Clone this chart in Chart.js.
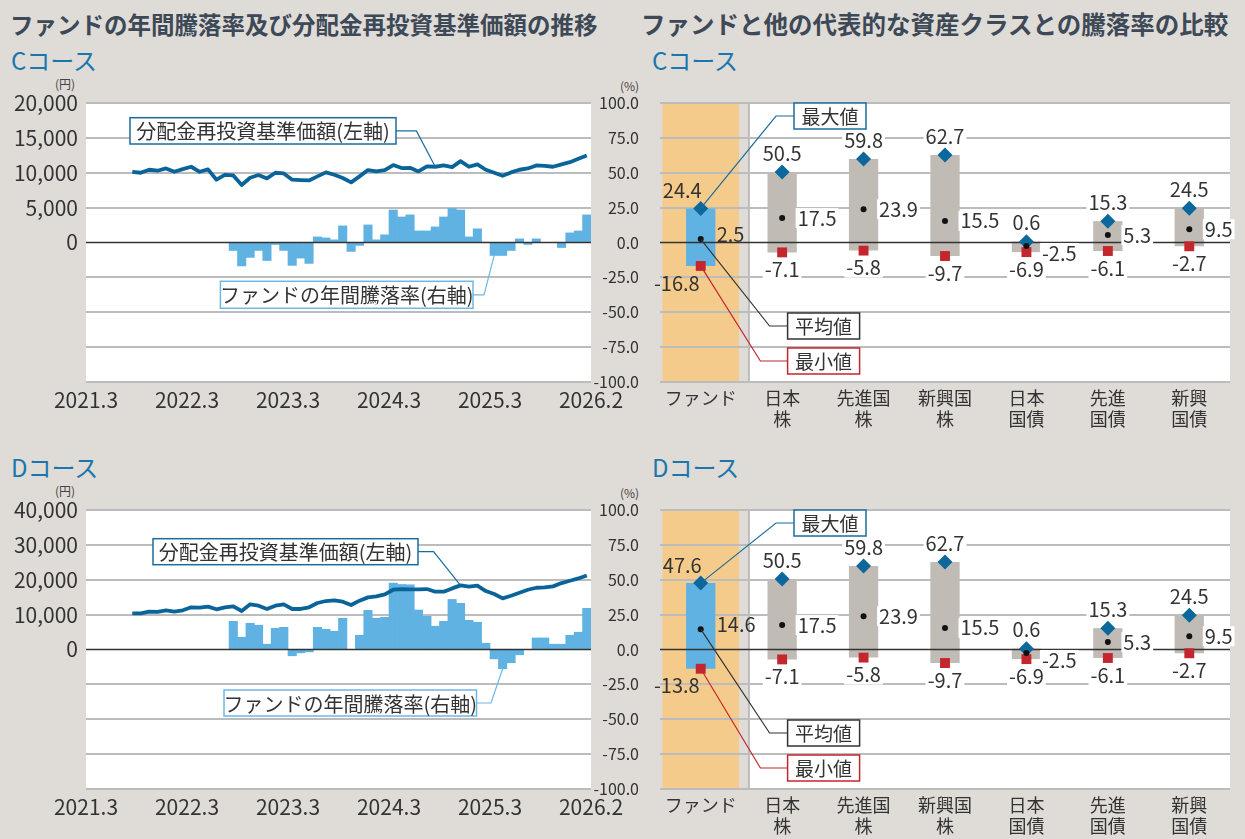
<!DOCTYPE html>
<html lang="ja"><head><meta charset="utf-8">
<script src="https://cdn.jsdelivr.net/npm/chart.js@4.4.1/dist/chart.umd.min.js"></script>
<style>
html,body{margin:0;padding:0}
body{width:1245px;height:839px;background:#dfdbd7;position:relative;overflow:hidden;font-family:"Noto Sans CJK JP",sans-serif}
.t{position:absolute;white-space:nowrap;line-height:1}
.title{font-weight:bold;color:#3d4956}
.course{font-size:24px;color:#1a76ad}
.unit{font-size:12px;color:#444}
canvas{position:absolute}
</style></head><body>
<div class="t title" style="left:10px;top:13px;font-size:23.5px">ファンドの年間騰落率及び分配金再投資基準価額の推移</div>
<div class="t title" style="left:641px;top:12px;font-size:24.5px">ファンドと他の代表的な資産クラスとの騰落率の比較</div>
<div class="t course" style="left:11px;top:48px">Cコース</div>
<div class="t course" style="left:652px;top:48px">Cコース</div>
<div class="t unit" style="left:55px;top:78px">(円)</div>
<div class="t unit" style="left:620px;top:80px">(%)</div>
<div class="t course" style="left:11px;top:455px">Dコース</div>
<div class="t course" style="left:652px;top:455px">Dコース</div>
<div class="t unit" style="left:55px;top:485px">(円)</div>
<div class="t unit" style="left:620px;top:487px">(%)</div>
<canvas id="cL" width="640" height="330" style="left:0;top:90px"></canvas>
<canvas id="cR" width="655" height="350" style="left:590px;top:90px"></canvas>
<canvas id="dL" width="640" height="330" style="left:0;top:497px"></canvas>
<canvas id="dR" width="655" height="350" style="left:590px;top:497px"></canvas>
<script>
// ---------- DATA ----------
const monthTickLabels = ['2021.3','2022.3','2023.3','2024.3','2025.3','2026.2'];
const monthTickValues = [0,12,24,36,48,60];
const navStartMonth = 5;   // 2021.8
const retStartMonth = 17;  // 2022.8

const navC = [10140,10000,10430,10290,10620,10140,10520,10860,10140,10480,
  9000,9710,9620,8240,9290,9670,9190,10000,9900,9000,
  8950,8900,9480,10050,9710,9240,8620,9480,10380,10190,
  10380,11100,10670,10710,10190,10900,10860,11050,10810,11670,
  10860,11190,10430,10000,9570,10050,10430,10620,11050,11000,
  10860,11190,11520,12000,12480];
const retC = [-5.7,-16.8,-10.7,-5.7,-12.9,-1.4,-5.7,-16.4,-11.2,-15.0,
  4.0,3.3,1.9,11.9,-6.4,-2.1,12.6,1.9,5.5,23.3,
  18.3,19.8,8.3,8.3,11.2,18.3,24.4,23.3,4.0,9.8,
  0.2,-9.3,-9.3,-5.7,2.6,-1.4,2.6,0.1,0.1,-3.6,
  6.9,8.3,19.8];
const navD = [10380,10380,10860,10770,11240,10860,11240,12100,12000,12290,
  11530,12100,12380,11050,12950,12570,11620,12570,12950,11620,
  11620,12100,13340,13900,14100,13720,12760,14000,14950,15240,
  15810,17140,17330,17240,17240,17330,16570,16570,17520,18380,
  18000,18290,16760,15900,14670,15430,16290,17140,17710,17810,
  18100,19050,19710,20380,21240];
const retD = [20.2,8.8,18.8,17.4,3.8,15.2,15.9,-4.5,-2.4,-1.7,
  15.9,14.5,13.1,22.4,0,10.2,28.1,22.4,23.1,47.6,
  46.6,46.4,28.3,23.8,16.7,20.2,35.9,33.1,20.9,19.5,
  4.5,-6.7,-13.8,-9.5,-3.8,0,8.3,8.3,3.8,3.8,
  10.2,12.4,29.5];

const assetLabels = [['ファンド'],['日本','株'],['先進国','株'],['新興国','株'],['日本','国債'],['先進','国債'],['新興','国債']];
const maxC  = [24.4,50.5,59.8,62.7,0.6,15.3,24.5];
const meanC = [2.5,17.5,23.9,15.5,-2.5,5.3,9.5];
const minC  = [-16.8,-7.1,-5.8,-9.7,-6.9,-6.1,-2.7];
const maxD  = [47.6,50.5,59.8,62.7,0.6,15.3,24.5];
const meanD = [14.6,17.5,23.9,15.5,-2.5,5.3,9.5];
const minD  = [-13.8,-7.1,-5.8,-9.7,-6.9,-6.1,-2.7];

// ---------- STYLE ----------
const FONT = '"Noto Sans CJK JP", sans-serif';
Chart.defaults.font.family = FONT;
const C_LINE='#0a6499', C_BAR='#60b2e2', C_GRID='#bcbcbc', C_ZERO='#333', C_TEXT='#333',
      C_ORANGE='#f4cb8b', C_GRAY='#c1bbb5', C_MAX='#0b679c', C_MIN='#c3262d';

function drawCallout(ctx, box, text, color, target, fontSize){
  ctx.save();
  const my = box.y + box.h/2;
  const sx = box.side==='right' ? box.x+box.w : box.x;
  ctx.strokeStyle=color; ctx.lineWidth=1.2;
  ctx.beginPath(); ctx.moveTo(sx,my); ctx.lineTo(box.elbow,my); ctx.lineTo(target[0],target[1]); ctx.stroke();
  ctx.fillStyle='#fff'; ctx.fillRect(box.x,box.y,box.w,box.h);
  ctx.lineWidth=1.5; ctx.strokeRect(box.x,box.y,box.w,box.h);
  ctx.fillStyle=C_TEXT; ctx.font=fontSize+'px '+FONT; ctx.textAlign='center'; ctx.textBaseline='middle';
  ctx.fillText(text, box.x+box.w/2, my+1);
  ctx.restore();
}
const whiteBg = {id:'whiteBg', beforeDraw(chart){
  const a=chart.chartArea, ctx=chart.ctx; ctx.save(); ctx.fillStyle='#fff';
  ctx.fillRect(a.left,a.top,a.right-a.left,a.bottom-a.top); ctx.restore();}};
function zeroPlugin(idx){ return {id:'zero', afterDatasetDraw(chart,args){
  if(args.index!==idx) return;
  const a=chart.chartArea, ctx=chart.ctx, y=chart.scales.y.getPixelForValue(0);
  ctx.save(); ctx.strokeStyle=C_ZERO; ctx.lineWidth=1.5; ctx.beginPath();
  ctx.moveTo(a.left,y); ctx.lineTo(a.right,y); ctx.stroke(); ctx.restore();}};}
function fixY(w){ return s=>{ s.width=w; s.paddingTop=0; s.paddingBottom=0; }; }

function leftChart(id, nav, ret, yMax, yStep, ann){
  const navPts = nav.map((v,i)=>({x:navStartMonth+i+0.5, y:v}));
  const retPts = ret.map((v,i)=>({x:retStartMonth+i+0.5, y:v}));
  return new Chart(document.getElementById(id), {
    type:'bar',
    data:{datasets:[
      {type:'line', data:navPts, yAxisID:'y', borderColor:C_LINE, borderWidth:3.8, pointRadius:0, order:0, borderJoinStyle:'round'},
      {type:'bar', data:retPts, yAxisID:'y2', backgroundColor:C_BAR, barPercentage:1, categoryPercentage:1, order:1}
    ]},
    options:{
      responsive:false, animation:false, events:[],
      layout:{padding:{top:13,right:49,left:0,bottom:0}},
      plugins:{legend:{display:false}, tooltip:{enabled:false}},
      scales:{
        x:{type:'linear', min:0, max:60, offset:false, grid:{display:false, drawTicks:false}, border:{display:false},
          afterBuildTicks:s=>{s.ticks=monthTickValues.map(v=>({value:v}));},
          afterFit:s=>{s.height=38;},
          ticks:{autoSkip:false, maxRotation:0, padding:5, color:C_TEXT, font:{size:21},
            callback:v=>monthTickLabels[monthTickValues.indexOf(v)]}},
        y:{min:-yMax, max:yMax, afterFit:fixY(86),
          ticks:{stepSize:yStep, padding:8, color:C_TEXT, font:{size:21},
            callback:v=> v>=0 ? v.toLocaleString('en-US') : ''},
          grid:{color:c=>c.tick.value===0?'rgba(0,0,0,0)':C_GRID, lineWidth:2, drawTicks:false},
          border:{display:false}},
        y2:{min:-100, max:100, display:false}
      }
    },
    plugins:[whiteBg, zeroPlugin(1), {id:'ann', afterDatasetsDraw(chart){
      const le = chart.getDatasetMeta(0).data[ann.lineIdx];
      const be = chart.getDatasetMeta(1).data[ann.barIdx];
      drawCallout(chart.ctx, ann.lineBox, '分配金再投資基準価額(左軸)', '#1b6c9c', [le.x, le.y], 20);
      drawCallout(chart.ctx, ann.barBox, 'ファンドの年間騰落率(右軸)', '#6cb8e3', [be.x, be.y], 20);
    }}]
  });
}

const rightBg = {id:'rightBg', beforeDraw(chart){
  const a=chart.chartArea, ctx=chart.ctx, xs=chart.scales.x;
  const w=(a.right-a.left)/assetLabels.length, c0=xs.getPixelForValue(0);
  ctx.save();
  ctx.fillStyle=C_ORANGE; ctx.fillRect(c0-0.47*w, a.top, 0.94*w, a.bottom-a.top);
  const wl=c0+0.5*w+6.5;
  ctx.fillStyle='#fff'; ctx.fillRect(wl, a.top, a.right-wl, a.bottom-a.top);
  ctx.strokeStyle=C_GRID; ctx.lineWidth=2; ctx.beginPath(); ctx.moveTo(wl+1,a.top); ctx.lineTo(wl+1,a.bottom); ctx.stroke();
  ctx.restore();}};

function rightChart(id, mx, avg, mn){
  const meanNudge=[-5,0,0,0,7,0,0];
  return new Chart(document.getElementById(id), {
    type:'bar',
    data:{labels:assetLabels, datasets:[
      {type:'bar', data:mn.map((v,i)=>[v,mx[i]]), backgroundColor:mn.map((v,i)=>i===0?C_BAR:C_GRAY),
        barPercentage:0.36, categoryPercentage:1, order:10},
      {type:'line', data:mx, showLine:false, pointStyle:'rectRot', pointRadius:7.5, pointBackgroundColor:C_MAX, pointBorderWidth:0, order:2},
      {type:'line', data:mn, showLine:false, pointStyle:'rect', pointRadius:7, pointBackgroundColor:C_MIN, pointBorderWidth:0, order:1},
      {type:'line', data:avg, showLine:false, pointStyle:'circle', pointRadius:3, pointBackgroundColor:'#111', pointBorderWidth:0, order:0}
    ]},
    options:{
      responsive:false, animation:false, events:[],
      layout:{padding:{top:13,right:15,left:0,bottom:0}},
      plugins:{legend:{display:false}, tooltip:{enabled:false}},
      scales:{
        x:{grid:{display:false, drawTicks:false}, border:{display:false}, afterFit:s=>{s.height=58;},
          ticks:{padding:5, color:C_TEXT, font:{size:18}, maxRotation:0, autoSkip:false}},
        y:{min:-100, max:100, afterFit:fixY(70),
          ticks:{stepSize:25, padding:21, color:C_TEXT, font:{size:16}, callback:v=>v.toFixed(1)},
          grid:{color:c=>c.tick.value===0?'rgba(0,0,0,0)':C_GRID, lineWidth:2, drawTicks:false},
          border:{display:false}}
      }
    },
    plugins:[rightBg, zeroPlugin(0), {id:'labels', afterDatasetsDraw(chart){
      const ctx=chart.ctx;
      const pMax=chart.getDatasetMeta(1).data, pMin=chart.getDatasetMeta(2).data, pAvg=chart.getDatasetMeta(3).data;
      function lab(text,x,y,align,bg){
        ctx.font='20px '+FONT; const w=ctx.measureText(text).width;
        const left = align==='center'? x-w/2 : align==='right'? x-w : x;
        if(bg){ctx.fillStyle=bg; ctx.fillRect(left-2,y-10,w+4,20);}
        ctx.fillStyle=C_TEXT; ctx.textAlign=align; ctx.textBaseline='middle'; ctx.fillText(text,x,y);
      }
      ctx.save();
      for(let i=0;i<assetLabels.length;i++){
        const a=pMax[i], b=pMin[i], m=pAvg[i];
        if(i===0){
          lab(mx[i].toFixed(1), a.x+1, a.y-18, 'right', null);
          lab(avg[i].toFixed(1), m.x+16, m.y+meanNudge[i], 'left', null);
          lab(mn[i].toFixed(1), b.x-1, b.y+17, 'right', null);
        } else {
          lab(mx[i].toFixed(1), a.x, a.y-19, 'center', '#fff');
          lab(avg[i].toFixed(1), m.x+15.5, m.y+meanNudge[i], 'left', '#fff');
          lab(mn[i].toFixed(1), b.x, b.y+17, 'center', '#fff');
        }
      }
      ctx.restore();
      drawCallout(ctx,{x:204,y:13,w:72,h:26,side:'left',elbow:186},'最大値','#1b6c9c',[pMax[0].x,pMax[0].y],19);
      drawCallout(ctx,{x:197.6,y:223,w:72,h:26,side:'left',elbow:179.6},'平均値','#333',[pAvg[0].x,pAvg[0].y],19);
      drawCallout(ctx,{x:197.6,y:258,w:72,h:26,side:'left',elbow:170.4},'最小値',C_MIN,[pMin[0].x,pMin[0].y],19);
    }}]
  });
}

leftChart('cL', navC, retC, 20000, 5000, {
  lineIdx:36, barIdx:31,
  lineBox:{x:130,y:27.7,w:266,h:26.3,side:'right',elbow:416.4},
  barBox:{x:220.4,y:191.3,w:252.6,h:27,side:'right',elbow:484}});
leftChart('dL', navD, retD, 40000, 10000, {
  lineIdx:39, barIdx:32,
  lineBox:{x:153,y:41.7,w:265,h:26,side:'right',elbow:433.6},
  barBox:{x:224,y:193,w:252.5,h:26,side:'right',elbow:491}});
rightChart('cR', maxC, meanC, minC);
rightChart('dR', maxD, meanD, minD);
</script>
</body></html>
